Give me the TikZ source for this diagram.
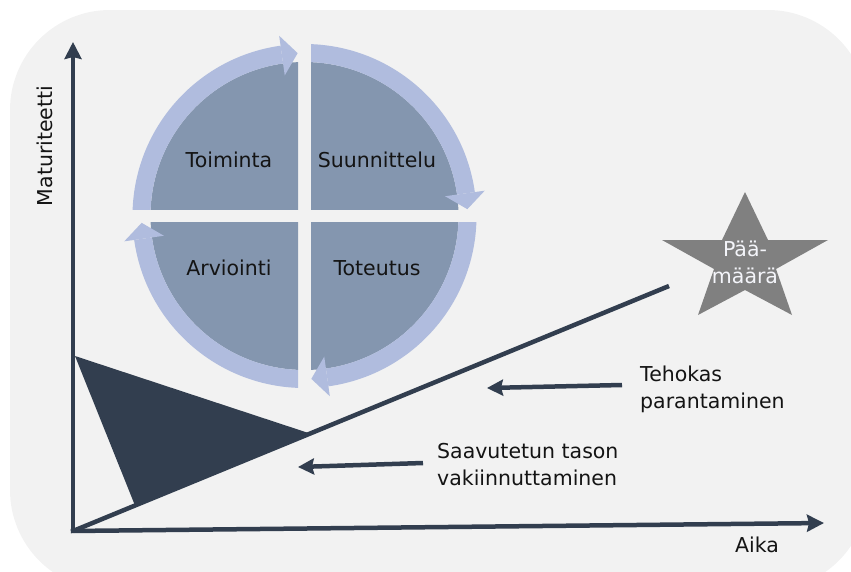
\documentclass[tikz,border=0pt]{standalone}
\usepackage{fontspec}
\setmainfont{DejaVu Sans}
\usetikzlibrary{arrows.meta}
\definecolor{bgc}{HTML}{F2F2F2}
\definecolor{navy}{HTML}{323E4F}
\definecolor{ringc}{HTML}{B0BCDE}
\definecolor{quadc}{HTML}{8496AF}
\definecolor{starc}{HTML}{808080}
\definecolor{txt}{HTML}{141414}
\definecolor{startxt}{HTML}{F4F5FA}
\begin{document}
\begin{tikzpicture}[x=1pt,y=-1pt,
  lbl/.style={font=\fontsize{20.5}{27}\selectfont, text=txt, inner sep=0pt},
  axisline/.style={navy, line width=4.5pt},
  axisarrow/.style={axisline, -{Stealth[length=17pt,width=17pt,inset=2pt]}},
  pointer/.style={axisline, -{Stealth[length=16pt,width=16pt,inset=2pt]}},
  ringpart/.style={fill=ringc},
  quadpart/.style={fill=quadc}]
\useasboundingbox (0,0) rectangle (851,571);

% panel
\begin{scope}
  \clip (0,0) rectangle (851,571);
  \fill[bgc, rounded corners=100pt] (10,10) rectangle (868,590);
\end{scope}

% PDCA cycle: four quadrants, each with its own arrow ring
\foreach \k in {0,1,2,3}{
  \begin{scope}[shift={(304.5,216)}, rotate=-90*\k]
    \clip (-200,-200) rectangle (-6.5,-6.5);
    \fill[quadpart] (0,0) circle[radius=154];
    \fill[ringpart] (180:172) arc[start angle=180, end angle=262, radius=172]
      -- (262:154) arc[start angle=262, end angle=180, radius=154] -- cycle;
    \fill[ringpart] (262:142) -- (267.6:163) -- (262:182) -- cycle;
  \end{scope}
}

\node[lbl] (toim) at (229,160) {Toiminta};
\node[lbl] (suun) at (377,160) {Suunnittelu};
\node[lbl] (arvi) at (229,268) {Arviointi};
\node[lbl] (tote) at (377,268) {Toteutus};

% axes and growth line
\coordinate (O) at (73,531);
\coordinate (Ys) at (73,533);
\coordinate (Ytip) at (73,42);
\coordinate (Xs) at (70.75,531);
\coordinate (Xtip) at (824,523);
\coordinate (Lend) at (669,286);

\fill[navy] (75,356) -- (310,433.5) -- (135,505.5) -- cycle;
\draw[axisline] (O) -- (Lend);
\draw[axisarrow] (Ys) -- (Ytip);
\draw[axisarrow] (Xs) -- (Xtip);

\node[lbl, rotate=90] (mat) at (45,146) {Maturiteetti};
\node[lbl] (aika) at (757,545) {Aika};

% goal star
\fill[starc] (745,192) -- (722,240) -- (662,240) -- (714,269) -- (698,315)
  -- (745,290) -- (792,315) -- (776,269) -- (828,240) -- (768,240) -- cycle;
\node[lbl, text=startxt, align=center] (goal) at (745,262) {Pää-\\määrä};

% labels with pointers
\node[lbl, align=left, anchor=west] (teho) at (640,389) {Tehokas\\parantaminen};
\node[lbl, align=left, anchor=west] (saav) at (437,465) {Saavutetun tason\\vakiinnuttaminen};
\coordinate (p1s) at (622,385);
\coordinate (p1e) at (487,388);
\coordinate (p2s) at (423,463);
\coordinate (p2e) at (298,467);
\draw[pointer] (p1s) -- (p1e);
\draw[pointer] (p2s) -- (p2e);
\end{tikzpicture}
\end{document}
